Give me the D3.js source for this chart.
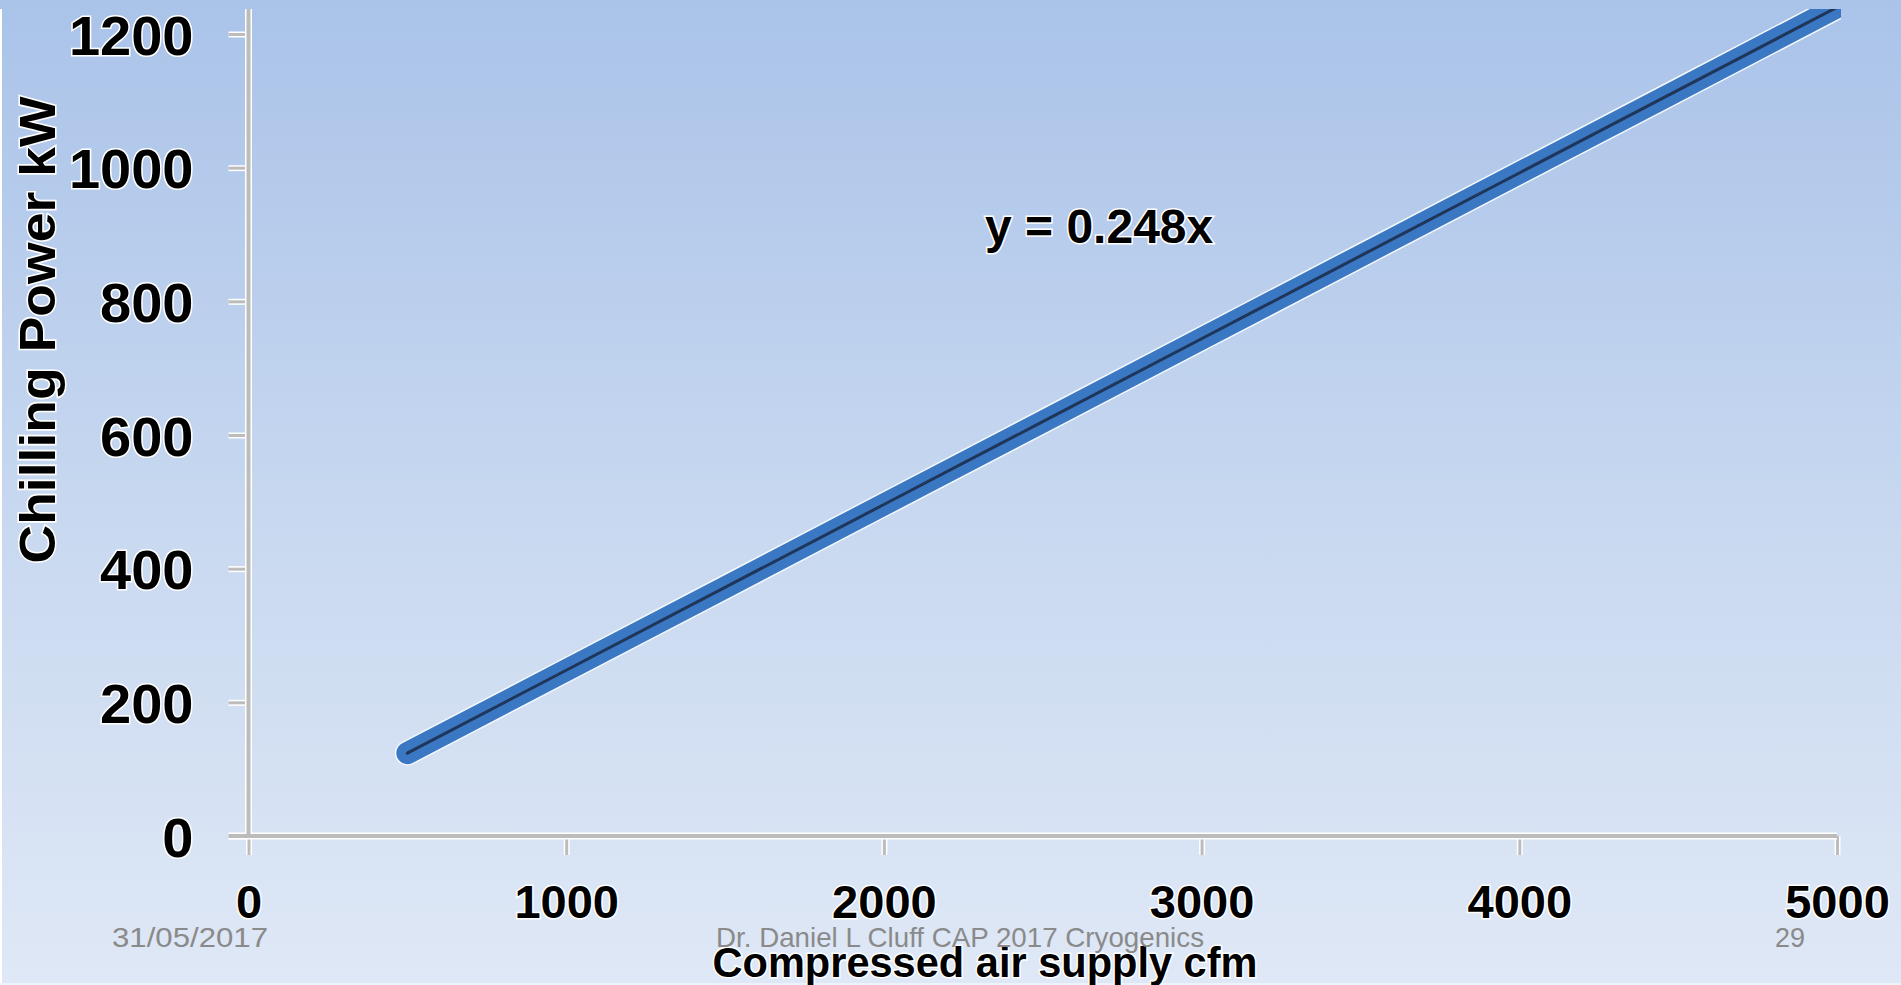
<!DOCTYPE html>
<html>
<head>
<meta charset="utf-8">
<script src="https://cdn.jsdelivr.net/npm/d3@7"></script>
<style>
  html, body { margin: 0; padding: 0; overflow: hidden; background: #dfe8f6; }
  svg text { font-family: 'Liberation Sans', Arial, sans-serif; }
</style>
</head>
<body>
<div id="chart"></div>
<script>
// chilling power vs compressed air supply (slide 29)

var cfm = [500, 1000, 1500, 2000, 2500, 3000, 3500, 4000, 4500, 5000];
var chillKW = [124, 248, 372, 496, 620, 744, 868, 992, 1116, 1240];
var xTicks = [0, 1000, 2000, 3000, 4000, 5000];
var yTicks = [0, 200, 400, 600, 800, 1000, 1200];
var xTitle = 'Compressed air supply cfm';
var yTitle = 'Chilling Power kW';
var trendLabel = 'y = 0.248x';
var footDate = '31/05/2017';
var footText = 'Dr. Daniel L Cluff CAP 2017 Cryogenics';
var footPage = '29';

var W = 1901, H = 985;

var svg = d3.select('#chart').append('svg')
    .attr('width', W)
    .attr('height', H);

var defs = svg.append('defs');

var grad = defs.append('linearGradient')
    .attr('id', 'bg')
    .attr('x1', 0).attr('x2', 0)
    .attr('y1', 0).attr('y2', 1);
grad.append('stop').attr('offset', '0%').attr('stop-color', '#aac3e9');
grad.append('stop').attr('offset', '55%').attr('stop-color', '#c9d9f0');
grad.append('stop').attr('offset', '100%').attr('stop-color', '#dfe8f6');

defs.append('clipPath')
    .attr('id', 'crop')
    .append('rect')
        .attr('x', 0).attr('y', 9)
        .attr('width', 1841).attr('height', H - 9);

svg.append('rect')
    .attr('width', W)
    .attr('height', H)
    .attr('fill', 'url(#bg)');

// thin white frame left/bottom of the pasted picture
svg.append('line')
    .attr('x1', 1).attr('x2', 1).attr('y1', 9).attr('y2', H)
    .attr('stroke', '#ffffff').attr('stroke-width', 2);
svg.append('line')
    .attr('x1', 0).attr('x2', W).attr('y1', 984).attr('y2', 984)
    .attr('stroke', '#eef3fb').attr('stroke-width', 2);

var x = d3.scaleLinear().domain([0, 5000]).range([248.5, 1837]);
var y = d3.scaleLinear().domain([0, 1200]).range([836, 34]);

function styleAxis(g){
    g.select('.domain').remove();
    g.selectAll('.tick line').clone(true).lower()
        .attr('stroke', '#ffffff')
        .attr('stroke-width', 6);
    g.selectAll('.tick line:not([stroke="#ffffff"])')
        .attr('stroke', '#bcbcbc')
        .attr('stroke-width', 3);
    g.selectAll('.tick text')
        .attr('fill', '#000000')
        .attr('font-weight', 'bold')
        .attr('stroke', '#ffffff')
        .attr('stroke-width', 3)
        .attr('paint-order', 'stroke');
}

// axis lines (gray with white edge)
var axes = svg.append('g');

axes.append('line')
    .attr('x1', x(0)).attr('x2', x(0))
    .attr('y1', 9).attr('y2', y(0))
    .attr('stroke', '#ffffff').attr('stroke-width', 7);
axes.append('line')
    .attr('x1', x(0) - 20).attr('x2', x(5000))
    .attr('y1', y(0)).attr('y2', y(0))
    .attr('stroke', '#ffffff').attr('stroke-width', 7);

var yAxis = svg.append('g')
    .attr('transform', 'translate(' + x(0) + ',0)')
    .call(d3.axisLeft(y)
        .tickValues(yTicks)
        .tickFormat(d3.format('d'))
        .tickSize(20)
        .tickSizeOuter(0)
        .tickPadding(35));
yAxis.selectAll('.tick text')
    .attr('font-size', 56)
    .attr('dy', '0.36em');
styleAxis(yAxis);

var xAxis = svg.append('g')
    .attr('transform', 'translate(0,' + y(0) + ')')
    .call(d3.axisBottom(x)
        .tickValues(xTicks)
        .tickFormat(d3.format('d'))
        .tickSize(19)
        .tickSizeOuter(0)
        .tickPadding(30));
xAxis.selectAll('.tick text')
    .attr('font-size', 47);
styleAxis(xAxis);

axes.raise();
axes.append('line')
    .attr('x1', x(0)).attr('x2', x(0))
    .attr('y1', 9).attr('y2', y(0))
    .attr('stroke', '#bcbcbc').attr('stroke-width', 4);
axes.append('line')
    .attr('x1', x(0) - 20).attr('x2', x(5000))
    .attr('y1', y(0)).attr('y2', y(0))
    .attr('stroke', '#bcbcbc').attr('stroke-width', 4);

// the data line: white halo, blue band, dark core
var pts = cfm.map(function(d, i){ return [d, chillKW[i]]; });
var line = d3.line()
    .x(function(d){ return x(d[0]); })
    .y(function(d){ return y(d[1]); });

var lineG = svg.append('g').attr('clip-path', 'url(#crop)');
lineG.append('path')
    .datum(pts)
    .attr('d', line)
    .attr('fill', 'none')
    .attr('stroke', '#f4f8fd')
    .attr('stroke-width', 25)
    .attr('stroke-linecap', 'round');
lineG.append('path')
    .datum(pts)
    .attr('d', line)
    .attr('fill', 'none')
    .attr('stroke', '#3b78c3')
    .attr('stroke-width', 22)
    .attr('stroke-linecap', 'round');
lineG.append('path')
    .datum(pts)
    .attr('d', line)
    .attr('fill', 'none')
    .attr('stroke', '#1f3559')
    .attr('stroke-width', 3)
    .attr('stroke-linecap', 'round');

// trendline equation
svg.append('text')
    .attr('x', 985)
    .attr('y', 243)
    .attr('font-size', 48)
    .attr('font-weight', 'bold')
    .attr('fill', '#000000')
    .attr('stroke', '#ffffff')
    .attr('stroke-width', 3)
    .attr('paint-order', 'stroke')
    .text(trendLabel);

// axis titles
svg.append('text')
    .attr('transform', 'translate(55,330) rotate(-90)')
    .attr('text-anchor', 'middle')
    .attr('font-size', 50)
    .attr('font-weight', 'bold')
    .attr('fill', '#000000')
    .attr('stroke', '#ffffff')
    .attr('stroke-width', 3)
    .attr('paint-order', 'stroke')
    .attr('textLength', 467)
    .attr('lengthAdjust', 'spacingAndGlyphs')
    .text(yTitle);

svg.append('text')
    .attr('x', 985)
    .attr('y', 977)
    .attr('text-anchor', 'middle')
    .attr('font-size', 42)
    .attr('font-weight', 'bold')
    .attr('fill', '#000000')
    .attr('stroke', '#ffffff')
    .attr('stroke-width', 3)
    .attr('paint-order', 'stroke')
    .attr('textLength', 545)
    .attr('lengthAdjust', 'spacingAndGlyphs')
    .text(xTitle);

// slide footer
var foot = svg.append('g')
    .attr('fill', '#8a8a8a')
    .attr('font-size', 28);
foot.append('text')
    .attr('x', 112).attr('y', 947)
    .attr('textLength', 156)
    .attr('lengthAdjust', 'spacingAndGlyphs')
    .text(footDate);
foot.append('text')
    .attr('x', 716).attr('y', 947)
    .attr('textLength', 488)
    .attr('lengthAdjust', 'spacingAndGlyphs')
    .text(footText);
foot.append('text')
    .attr('x', 1775).attr('y', 947)
    .attr('textLength', 30)
    .attr('lengthAdjust', 'spacingAndGlyphs')
    .text(footPage);
</script>
</body>
</html>
